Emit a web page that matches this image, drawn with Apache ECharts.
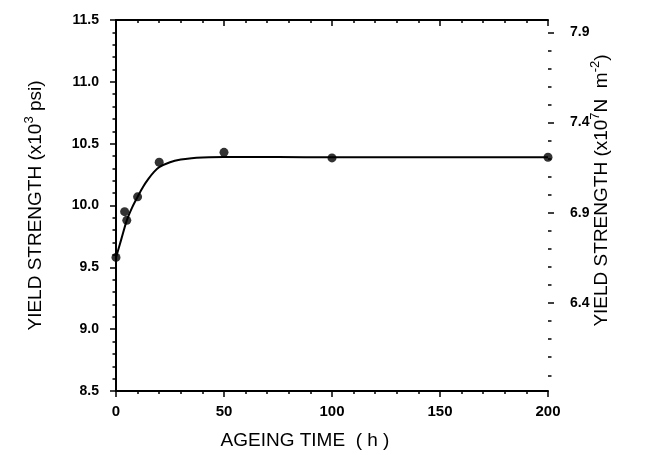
<!DOCTYPE html>
<html>
<head>
<meta charset="utf-8">
<script src="https://cdn.jsdelivr.net/npm/echarts@6/dist/echarts.min.js"></script>
<style>
html,body{margin:0;padding:0;background:#fff;}
#chart{width:657px;height:455px;}
</style>
</head>
<body>
<div id="chart"></div>
<script>
// Measured data points: ageing time (h) vs yield strength (x10^3 psi)
const timeH = [0, 4, 5, 10, 20, 50, 100, 200];
const yieldKsi = [9.58, 9.95, 9.88, 10.07, 10.35, 10.43, 10.385, 10.39];
// Fitted curve
const fitTime = [0, 2.5, 5, 7.5, 10, 12.5, 15, 17.5, 20, 25, 30, 35, 40, 50, 75, 100, 200];
const fitKsi = [9.58, 9.73, 9.88, 9.985, 10.07, 10.15, 10.215, 10.27, 10.31, 10.35, 10.372, 10.383, 10.388, 10.392, 10.392, 10.39, 10.39];
// Tick labels
const xTicks = [0, 50, 100, 150, 200];
const leftTicks = [8.5, 9.0, 9.5, 10.0, 10.5, 11.0, 11.5];
const rightMajor = [6.4, 6.9, 7.4, 7.9];
const rightMinor = [6.0, 6.1, 6.2, 6.3, 6.5, 6.6, 6.7, 6.8, 7.0, 7.1, 7.2, 7.3, 7.5, 7.6, 7.7, 7.8];
const rightMin = 5.913, rightMax = 7.968;

const FONT = 'Liberation Sans';
const ink = '#000';
const chart = echarts.init(document.getElementById('chart'), null, {renderer: 'canvas'});

const sup = {fontSize: 13, fontFamily: FONT, color: ink, padding: [0, 0, 12, 0]};

chart.setOption({
  backgroundColor: '#fff',
  animation: false,
  grid: {left: 116, right: 109, top: 20, bottom: 63, containLabel: false},
  xAxis: [
    {
      type: 'value', position: 'bottom', min: xTicks[0], max: xTicks[xTicks.length - 1], interval: 50,
      axisLine: {show: true, lineStyle: {color: ink, width: 2}},
      axisTick: {show: true, inside: false, length: 6, lineStyle: {color: ink, width: 1.5}},
      minorTick: {show: true, splitNumber: 5, length: 3, lineStyle: {color: ink, width: 1.5}},
      splitLine: {show: false},
      axisLabel: {margin: 13, fontSize: 15, fontWeight: 'bold', fontFamily: FONT, color: ink},
      name: 'AGEING TIME  ( h )', nameLocation: 'middle', nameGap: 40, nameMoveOverlap: false,
      nameTextStyle: {fontSize: 19, fontFamily: FONT, color: ink, padding: [0, 54, 0, 0]}
    },
    {
      type: 'value', position: 'top', min: xTicks[0], max: xTicks[xTicks.length - 1], interval: 50,
      axisLine: {show: true, lineStyle: {color: ink, width: 2}},
      axisTick: {show: true, inside: true, length: 6, lineStyle: {color: ink, width: 1.5}},
      minorTick: {show: true, splitNumber: 5, length: 3, lineStyle: {color: ink, width: 1.5}},
      splitLine: {show: false},
      axisLabel: {show: false}
    }
  ],
  yAxis: [
    {
      type: 'value', position: 'left', min: leftTicks[0], max: leftTicks[leftTicks.length - 1], interval: 0.5,
      axisLine: {show: true, lineStyle: {color: ink, width: 2}},
      axisTick: {show: true, inside: false, length: 6, lineStyle: {color: ink, width: 1.5}},
      minorTick: {show: true, splitNumber: 5, length: 3.5, lineStyle: {color: ink, width: 1.5}},
      splitLine: {show: false},
      axisLabel: {margin: 17, fontSize: 14, fontWeight: 'bold', fontFamily: FONT, color: ink,
        formatter: v => v.toFixed(1)},
      name: 'YIELD STRENGTH (x10{s|3} psi)', nameLocation: 'middle', nameGap: 68, nameRotate: 90, nameMoveOverlap: false,
      nameTextStyle: {fontSize: 19, fontFamily: FONT, color: ink, rich: {s: sup}}
    },
    {
      type: 'value', position: 'right', min: rightMin, max: rightMax,
      axisLine: {show: true, lineStyle: {color: ink, width: 2}},
      axisTick: {show: false},
      splitLine: {show: false},
      axisLabel: {margin: 22, fontSize: 14, fontWeight: 'bold', fontFamily: FONT, color: ink,
        customValues: rightMajor, formatter: v => v.toFixed(1)},
      name: 'YIELD STRENGTH (x10{s|7}N  m{s|-2})', nameLocation: 'middle', nameGap: 41, nameRotate: 90, nameMoveOverlap: false,
      nameTextStyle: {fontSize: 19, fontFamily: FONT, color: ink, padding: [0, 0, 0, 30], rich: {s: sup}}
    },
    {
      type: 'value', position: 'right', min: rightMin, max: rightMax,
      axisLine: {show: false},
      axisTick: {show: true, inside: false, length: 3.5, customValues: rightMinor, lineStyle: {color: ink, width: 1.5}},
      splitLine: {show: false},
      axisLabel: {show: false}
    },
    {
      type: 'value', position: 'right', min: rightMin, max: rightMax,
      axisLine: {show: false},
      axisTick: {show: true, inside: false, length: 6, customValues: rightMajor, lineStyle: {color: ink, width: 1.5}},
      splitLine: {show: false},
      axisLabel: {show: false}
    }
  ],
  series: [
    {
      type: 'line', xAxisIndex: 0, yAxisIndex: 0,
      data: fitTime.map((t, i) => [t, fitKsi[i]]),
      smooth: 0.3, showSymbol: false, symbol: 'none',
      lineStyle: {color: ink, width: 2}, z: 2
    },
    {
      type: 'scatter', xAxisIndex: 0, yAxisIndex: 0,
      data: timeH.map((t, i) => [t, yieldKsi[i]]),
      symbol: 'circle', symbolSize: 9,
      itemStyle: {color: ink}, z: 3
    }
  ]
});
</script>
</body>
</html>
